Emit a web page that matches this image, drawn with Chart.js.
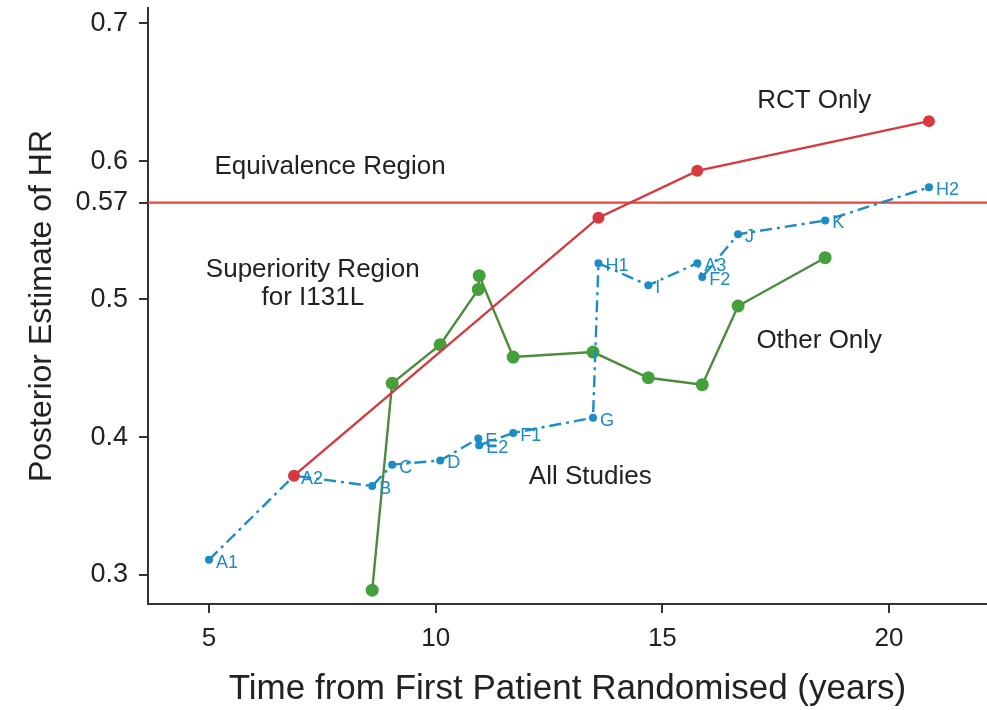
<!DOCTYPE html>
<html lang="en">
<head>
<meta charset="UTF-8">
<title>Posterior Estimate of HR</title>
<style>
  html, body { margin: 0; padding: 0; background: #fff; overflow: hidden; }
  #wrap { width: 987px; height: 710px; }
  #hrChart { display: block; }
</style>
</head>
<body>
<div id="wrap"><canvas id="hrChart" width="987" height="710"></canvas></div>

<script src="https://cdn.jsdelivr.net/npm/chart.js@4/dist/chart.umd.min.js"></script>
<script>
// studies in order of accrual, with time since first patient randomised (years)
const studyLabels = ['A1', 'A2', 'B', 'C', 'D', 'E', 'E2', 'F1', 'G', 'H1', 'I', 'A3', 'F2', 'J', 'K', 'H2'];
const studyYears = [5.0, 6.875, 8.6, 9.04, 10.1, 10.94, 10.96, 11.71, 13.47, 13.59, 14.69, 15.77, 15.88, 16.67, 18.59, 20.88];

// posterior estimate of HR after each update
const allStudiesHR = [0.311, 0.372, 0.3645, 0.380, 0.383, 0.399, 0.394, 0.403, 0.414, 0.526, 0.510, 0.526, 0.516, 0.547, 0.557, 0.581];
const rctStudies = ['A2', 'H1', 'A3', 'H2'];
const rctHR = [0.372, 0.559, 0.593, 0.629];
const otherStudies = ['B', 'C', 'D', 'E', 'E2', 'F1', 'G', 'I', 'F2', 'J', 'K'];
const otherHR = [0.289, 0.439, 0.467, 0.507, 0.517, 0.458, 0.4616, 0.443, 0.438, 0.495, 0.530];

const equivalenceHR = 0.57;
const xTicks = [5, 10, 15, 20];
const yTicks = [0.3, 0.4, 0.5, 0.57, 0.6, 0.7];
const xRange = [3.655, 22.16];
const yRange = [0.279, 0.711];

const FONT = '"Liberation Sans", Arial, Helvetica, sans-serif';
const BLUE = '#1a8cc6';
const RED = '#d8383e';
const GREEN = '#4a8c3c';
const AXIS = '#333333';

function yearOf(name) { return studyYears[studyLabels.indexOf(name)]; }

const allPoints = studyYears.map((x, i) => ({ x: x, y: allStudiesHR[i] }));
const rctPoints = rctStudies.map((s, i) => ({ x: yearOf(s), y: rctHR[i] }));
const otherPoints = otherStudies.map((s, i) => ({ x: yearOf(s), y: otherHR[i] }));
const equivPoints = [{ x: xRange[0], y: equivalenceHR }, { x: xRange[1], y: equivalenceHR }];

// free text placed in data units
const notes = [
  { text: 'Equivalence Region', x: 7.67, y: 0.596 },
  { text: 'Superiority Region', x: 7.29, y: 0.521 },
  { text: 'for I131L', x: 7.29, y: 0.5007 },
  { text: 'RCT Only', x: 18.35, y: 0.644 },
  { text: 'Other Only', x: 18.46, y: 0.470 },
  { text: 'All Studies', x: 13.41, y: 0.371 }
];

const notesPlugin = {
  id: 'notes',
  afterDatasetsDraw(chart) {
    const ctx = chart.ctx;
    const xs = chart.scales.x, ys = chart.scales.y;
    ctx.save();
    ctx.fillStyle = '#222';
    ctx.font = '26px ' + FONT;
    ctx.textAlign = 'center';
    ctx.textBaseline = 'middle';
    notes.forEach(n => ctx.fillText(n.text, xs.getPixelForValue(n.x), ys.getPixelForValue(n.y)));

    // study letters next to the all-studies points
    const meta = chart.getDatasetMeta(1);
    ctx.fillStyle = BLUE;
    ctx.font = '18px ' + FONT;
    ctx.textAlign = 'left';
    meta.data.forEach((pt, i) => ctx.fillText(studyLabels[i], pt.x + 7, pt.y + 3));
    ctx.restore();
  }
};

// keep the plot box fixed: no extra room for end labels
function noPad(s) {
  s.paddingTop = 0; s.paddingBottom = 0; s.paddingLeft = 0; s.paddingRight = 0;
}

const axisCommon = {
  type: 'linear',
  grid: { display: true, drawOnChartArea: false, drawTicks: true, tickLength: 9, color: AXIS, lineWidth: 2 },
  border: { display: true, color: AXIS, width: 2 }
};

new Chart(document.getElementById('hrChart'), {
  type: 'line',
  data: {
    datasets: [
      {
        label: 'RCT Only', data: rctPoints, order: 0,
        borderColor: RED, backgroundColor: RED, borderWidth: 2.4,
        pointRadius: 6, pointBorderWidth: 0, pointBackgroundColor: RED
      },
      {
        label: 'All Studies', data: allPoints, order: 1,
        borderColor: BLUE, backgroundColor: BLUE, borderWidth: 2.4,
        borderDash: [12, 5, 3, 5],
        pointRadius: 4, pointBorderWidth: 0, pointBackgroundColor: BLUE
      },
      {
        label: 'Other Only', data: otherPoints, order: 2,
        borderColor: GREEN, backgroundColor: '#44a03a', borderWidth: 2.4,
        pointRadius: 6.5, pointBorderWidth: 0, pointBackgroundColor: '#44a03a'
      },
      {
        label: 'Equivalence', data: equivPoints, order: 3,
        borderColor: '#e4483c', borderWidth: 2.2, pointRadius: 0
      }
    ]
  },
  options: {
    responsive: false,
    animation: false,
    devicePixelRatio: 1,
    layout: { autoPadding: false, padding: { top: 8, right: 0, left: 0, bottom: 0 } },
    plugins: { legend: { display: false }, tooltip: { enabled: false } },
    scales: {
      x: Object.assign({}, axisCommon, {
        min: xRange[0], max: xRange[1],
        afterBuildTicks: s => { s.ticks = xTicks.map(v => ({ value: v })); },
        afterFit: s => { s.height = 106; noPad(s); },
        ticks: { color: '#222', font: { family: FONT, size: 26 }, padding: 10, maxRotation: 0 },
        title: {
          display: true, text: 'Time from First Patient Randomised (years)',
          color: '#222', font: { family: FONT, size: 35 }, padding: { top: 0, bottom: 0 }
        }
      }),
      y: Object.assign({}, axisCommon, {
        min: yRange[0], max: yRange[1],
        afterBuildTicks: s => { s.ticks = yTicks.map(v => ({ value: v })); },
        afterFit: s => { s.width = 148; noPad(s); },
        ticks: { color: '#222', font: { family: FONT, size: 27 }, padding: 11, callback: v => String(v) },
        title: {
          display: true, text: 'Posterior Estimate of HR',
          color: '#222', font: { family: FONT, size: 32 }, padding: { top: 23, bottom: 0 }
        }
      })
    }
  },
  plugins: [notesPlugin]
});
</script>
</body>
</html>
